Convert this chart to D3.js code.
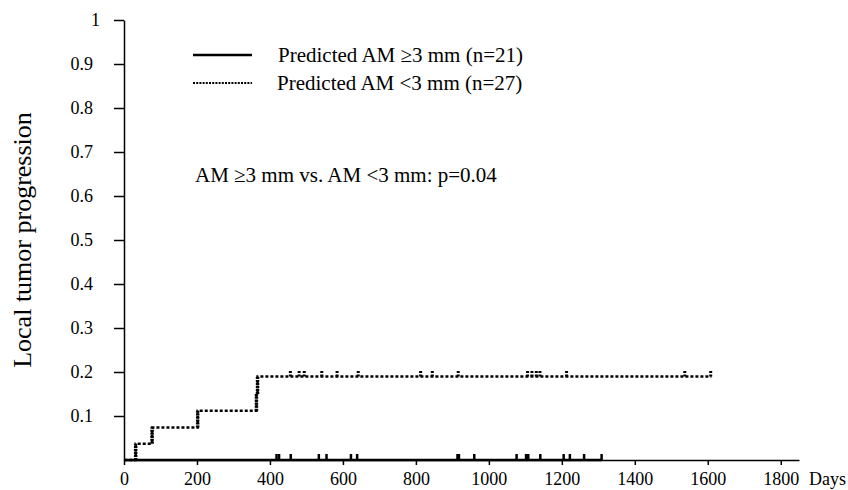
<!DOCTYPE html>
<html>
<head>
<style>
  body { margin: 0; background: #fff; }
  svg text { font-family: "Liberation Serif", "Times New Roman", serif; fill: #000; }
</style>
</head>
<body>
<svg width="848" height="490"></svg>
<script src="https://d3js.org/d3.v7.min.js"></script>
<script>
// tick labels
var xTicks = [0, 200, 400, 600, 800, 1000, 1200, 1400, 1600, 1800];
var yTicks = [0.1, 0.2, 0.3, 0.4, 0.5, 0.6, 0.7, 0.8, 0.9, 1];

// Predicted AM >=3 mm (n=21): no events, follow-up ends at 1309 days
var solidEnd = 1309;
var solidCensor = [418, 425, 457, 534, 555, 622, 639, 914, 918, 960, 1076, 1102, 1108, 1141, 1205, 1222, 1261, 1309];

// Predicted AM <3 mm (n=27): step times and cumulative progression
var dottedTimes = [0, 32, 77, 202, 363, 366, 1610];
var dottedLevels = [0, 0.037, 0.074, 0.112, 0.15, 0.19, 0.19];
var dottedCensor = [456, 480, 494, 542, 584, 642, 813, 845, 916, 1106, 1118, 1130, 1140, 1213, 1537, 1608];

var legendLabels = ["Predicted AM \u22653 mm (n=21)", "Predicted AM <3 mm (n=27)"];
var pText = "AM \u22653 mm vs. AM <3 mm: p=0.04";

var svg = d3.select("svg");
var serif = "'Liberation Serif', 'Times New Roman', serif";

var x = d3.scaleLinear().domain([0, 1850]).range([124, 799]);
var y = d3.scaleLinear().domain([0, 1]).range([460, 20]);

// x axis
var gx = svg.append("g")
    .attr("transform", "translate(0," + y(0) + ")")
    .call(d3.axisBottom(x).tickValues(xTicks).tickSize(5).tickSizeOuter(0).tickPadding(7)
        .tickFormat(d3.format("d")));
gx.attr("font-family", serif).attr("font-size", 18);

// y axis
var gy = svg.append("g")
    .attr("transform", "translate(" + x(0) + ",0)")
    .call(d3.axisLeft(y).tickValues(yTicks).tickSize(10).tickSizeOuter(0).tickPadding(21)
        .tickFormat(function (d) { return d === 1 ? "1" : d3.format(".1f")(d); }));
gy.attr("font-family", serif).attr("font-size", 18);
gy.selectAll(".tick").filter(function (d) { return d === 1; }).select("text").attr("dx", 7);

svg.selectAll(".domain, .tick line").attr("stroke", "#000").attr("stroke-width", 1.5);

svg.append("text")
    .attr("x", 809).attr("y", 485)
    .style("font-size", "18px")
    .text("Days");

svg.append("text")
    .attr("transform", "rotate(-90)")
    .attr("x", -240).attr("y", 31)
    .attr("text-anchor", "middle")
    .style("font-size", "26px")
    .text("Local tumor progression");

// solid curve (lies on the x axis)
svg.append("line")
    .attr("x1", x(0)).attr("x2", x(solidEnd))
    .attr("y1", y(0)).attr("y2", y(0))
    .attr("stroke", "#000").attr("stroke-width", 2.5);

svg.selectAll(".cs")
    .data(solidCensor)
    .enter().append("line")
    .attr("x1", function (d) { return x(d); })
    .attr("x2", function (d) { return x(d); })
    .attr("y1", y(0)).attr("y2", y(0) - 6)
    .attr("stroke", "#000").attr("stroke-width", 2.5);

// dotted curve
var pts = dottedTimes.map(function (t, i) { return [t, dottedLevels[i]]; });
var line = d3.line()
    .x(function (d) { return x(d[0]); })
    .y(function (d) { return y(d[1]); })
    .curve(d3.curveStepAfter);

svg.append("path")
    .datum(pts)
    .attr("fill", "none")
    .attr("stroke", "#000")
    .attr("stroke-width", 2.5)
    .attr("stroke-dasharray", "3,2")
    .attr("d", line);

// risers drawn denser
svg.selectAll(".riser")
    .data(pts.slice(1).filter(function (d, i) { return d[1] !== pts[i][1]; }))
    .enter().append("line")
    .attr("x1", function (d) { return x(d[0]); })
    .attr("x2", function (d) { return x(d[0]); })
    .attr("y1", function (d) { return y(dottedLevels[dottedTimes.indexOf(d[0]) - 1]); })
    .attr("y2", function (d) { return y(d[1]); })
    .attr("stroke", "#000").attr("stroke-width", 3.5)
    .attr("stroke-dasharray", "2,1");

svg.selectAll(".cd")
    .data(dottedCensor)
    .enter().append("line")
    .attr("x1", function (d) { return x(d); })
    .attr("x2", function (d) { return x(d); })
    .attr("y1", y(0.19)).attr("y2", y(0.19) - 6)
    .attr("stroke", "#000").attr("stroke-width", 3)
    .attr("stroke-dasharray", "2,1.5");

// legend
var legend = svg.append("g");
legend.append("line")
    .attr("x1", 193).attr("x2", 252).attr("y1", 55).attr("y2", 55)
    .attr("stroke", "#000").attr("stroke-width", 2.5);
legend.append("line")
    .attr("x1", 193).attr("x2", 252).attr("y1", 83).attr("y2", 83)
    .attr("stroke", "#000").attr("stroke-width", 2)
    .attr("stroke-dasharray", "2,1.2");
legend.selectAll("text")
    .data(legendLabels)
    .enter().append("text")
    .attr("x", function (d, i) { return i === 0 ? 278 : 277; })
    .attr("y", function (d, i) { return 62 + i * 28; })
    .style("font-size", "21px")
    .text(function (d) { return d; });

svg.append("text")
    .attr("x", 195).attr("y", 182)
    .style("font-size", "21px")
    .text(pText);
</script>
</body>
</html>
